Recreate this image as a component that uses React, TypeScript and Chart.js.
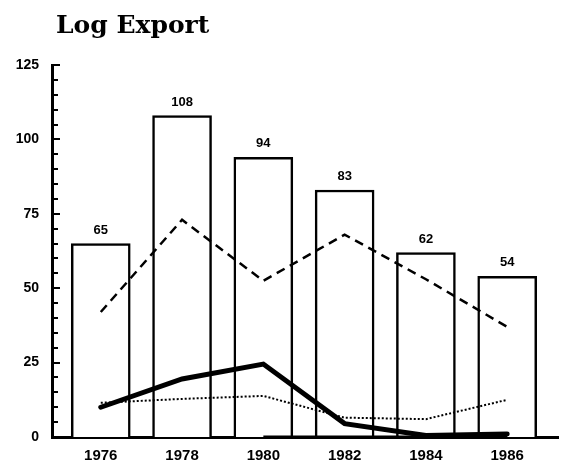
import React, { useEffect, useRef } from "react";
import { Chart, registerables } from "chart.js";

Chart.register(...registerables);

// ---- data ----
const years = [1976, 1978, 1980, 1982, 1984, 1986];
const logExport = [65, 108, 94, 83, 62, 54];
const dashedSeries = [42, 73, 52.5, 68, 53, 37];
const thickSeries = [10, 19.5, 24.5, 4.5, 0.5, 1];
const dottedSeries = [11.5, 12.8, 13.8, 6.5, 6, 12.5];
const baseSeriesYears = [1980, 1982, 1984, 1986];
const baseSeries = [0, 0, 0, 0];
const yTickValues = [0, 25, 50, 75, 100, 125];

const pts = (xs: number[], ys: number[]) => xs.map((x, i) => ({ x, y: ys[i] }));

const BAR_INDEX = 4;

const innerTicks = {
  id: "innerTicks",
  afterDraw(chart: any) {
    const y = chart.scales.y;
    const ctx = chart.ctx;
    const left = chart.chartArea.left;
    ctx.save();
    ctx.strokeStyle = "#000";
    ctx.lineWidth = 2;
    for (let v = 0; v <= 125; v += 5) {
      const py = Math.round(y.getPixelForValue(v));
      const len = yTickValues.includes(v) ? 8 : 6;
      ctx.beginPath();
      ctx.moveTo(left, py);
      ctx.lineTo(left + len, py);
      ctx.stroke();
    }
    ctx.restore();
  },
};

const barLabels = {
  id: "barLabels",
  afterDatasetsDraw(chart: any) {
    const meta = chart.getDatasetMeta(BAR_INDEX);
    const ctx = chart.ctx;
    ctx.save();
    ctx.fillStyle = "#000";
    ctx.font = "bold 13px 'Liberation Sans', Arial, sans-serif";
    ctx.textAlign = "center";
    ctx.textBaseline = "bottom";
    meta.data.forEach((el: any, i: number) => {
      ctx.fillText(String(logExport[i]), el.x, el.y - 7);
    });
    ctx.restore();
  },
};

export default function App() {
  const ref = useRef<HTMLCanvasElement>(null);

  useEffect(() => {
    if (!ref.current) return;
    const chart = new Chart(ref.current, {
      type: "bar",
      data: {
        datasets: [
          {
            type: "line",
            label: "Dashed",
            data: pts(years, dashedSeries),
            borderColor: "#000",
            borderWidth: 2.5,
            borderDash: [9, 6],
            pointRadius: 0,
            tension: 0,
            order: 0,
          } as any,
          {
            type: "line",
            label: "Thick",
            data: pts(years, thickSeries),
            borderColor: "#000",
            borderWidth: 5,
            pointRadius: 0,
            tension: 0,
            borderCapStyle: "round",
            order: 1,
          } as any,
          {
            type: "line",
            label: "Dotted",
            data: pts(years, dottedSeries),
            borderColor: "#000",
            borderWidth: 2,
            borderDash: [2, 2],
            pointRadius: 0,
            tension: 0,
            order: 2,
          } as any,
          {
            type: "line",
            label: "Base",
            data: pts(baseSeriesYears, baseSeries),
            borderColor: "#000",
            borderWidth: 3,
            pointRadius: 0,
            tension: 0,
            order: 3,
          } as any,
          {
            type: "bar",
            label: "Log Export",
            data: pts(years, logExport),
            backgroundColor: "#fff",
            borderColor: "#000",
            borderWidth: 2.5,
            barThickness: 59,
            order: 10,
          } as any,
        ],
      },
      options: {
        animation: false,
        responsive: false,
        layout: { padding: { left: 0, right: 10, top: 65, bottom: 0 } },
        plugins: {
          legend: { display: false },
          title: { display: false },
          tooltip: { enabled: false },
        },
        scales: {
          x: {
            type: "linear",
            offset: false,
            min: 1974.8,
            max: 1987.25,
            grid: { display: false, drawTicks: false },
            border: { display: true, color: "#000", width: 3 },
            afterBuildTicks: (scale: any) => {
              scale.ticks = years.map((v) => ({ value: v }));
            },
            afterFit: (scale: any) => {
              scale.height = 29;
            },
            ticks: {
              color: "#000",
              padding: 10,
              maxRotation: 0,
              font: { family: "'Liberation Sans', Arial, sans-serif", size: 15, weight: "bold" },
              callback: (v: any) => String(v),
            },
          },
          y: {
            type: "linear",
            min: 0,
            max: 125,
            grid: { display: false, drawTicks: false },
            border: { display: true, color: "#000", width: 3 },
            afterBuildTicks: (scale: any) => {
              scale.ticks = yTickValues.map((v) => ({ value: v }));
            },
            afterFit: (scale: any) => {
              scale.width = 52;
            },
            ticks: {
              color: "#000",
              padding: 13,
              font: { family: "'Liberation Sans', Arial, sans-serif", size: 14, weight: "bold" },
              callback: (v: any) => String(v),
            },
          },
        },
      },
      plugins: [innerTicks, barLabels],
    });
    return () => chart.destroy();
  }, []);

  return (
    <div style={{ position: "absolute", left: 0, top: 0, width: 568, height: 466, background: "#fff" }}>
      <div
        style={{
          position: "absolute",
          left: 56,
          top: 10,
          fontFamily: "'DejaVu Serif', serif",
          fontWeight: "bold",
          fontSize: 25,
          lineHeight: "30px",
          color: "#000",
          whiteSpace: "nowrap",
        }}
      >
        Log Export
      </div>
      <canvas ref={ref} width={568} height={466} style={{ display: "block" }} />
    </div>
  );
}
